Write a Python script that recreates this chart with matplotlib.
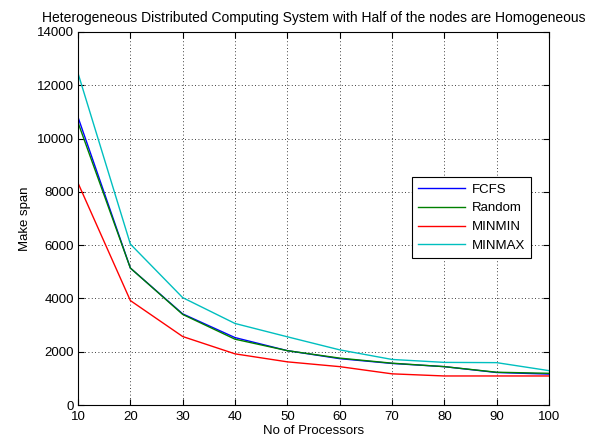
import numpy as np
import matplotlib
matplotlib.use("Agg")
import matplotlib.pyplot as plt

plt.rcParams['font.family'] = ['Liberation Sans', 'DejaVu Sans']

# number of processors
procs = [10, 20, 30, 40, 50, 60, 70, 80, 90, 100]

# make span for each scheduling scheme
fcfs   = [10800, 5140, 3420, 2530, 2040, 1740, 1560, 1440, 1220, 1160]
rnd    = [10600, 5140, 3400, 2470, 2040, 1760, 1570, 1440, 1230, 1190]
minmin = [8330, 3920, 2570, 1920, 1620, 1440, 1170, 1090, 1090, 1090]
minmax = [12450, 6040, 4030, 3060, 2560, 2070, 1710, 1600, 1590, 1290]

fig = plt.figure(figsize=(5.97, 4.46), dpi=100)
ax = fig.add_axes([0.1307, 0.0919, 0.7889, 0.8364])

ax.plot(procs, fcfs, color='#0000ff', lw=1.0, label='FCFS')
ax.plot(procs, rnd, color='#008000', lw=1.0, label='Random')
ax.plot(procs, minmin, color='#ff0000', lw=1.0, label='MINMIN')
ax.plot(procs, minmax, color='#00bfbf', lw=1.0, label='MINMAX')

ax.set_xlim(10, 100)
ax.set_ylim(0, 14000)
ax.set_xticks(np.arange(10, 101, 10))
ax.set_yticks(np.arange(0, 14001, 2000))
ax.tick_params(direction='in', top=True, right=True, labelsize=9.5, length=4, pad=3)
ax.tick_params(axis='x', pad=4)
ax.grid(True, linestyle=(0, (1, 3)), color='black', lw=0.6)
for s in ax.spines.values():
    s.set_linewidth(0.8)

ax.set_xlabel('No of Processors', fontsize=9.5, labelpad=2)
ax.set_ylabel('Make span', fontsize=9.5)
ax.set_title('Heterogeneous Distributed Computing System with Half of the nodes are Homogeneous',
             fontsize=10, pad=7)

leg = ax.legend(loc='upper left', bbox_to_anchor=(0.695, 0.628), fontsize=9.5,
                fancybox=False, edgecolor='black', framealpha=1,
                handlelength=3.6, borderpad=0.45, labelspacing=0.5,
                handletextpad=0.5)
leg.get_frame().set_linewidth(0.8)

fig.savefig('out.png', dpi=100)
